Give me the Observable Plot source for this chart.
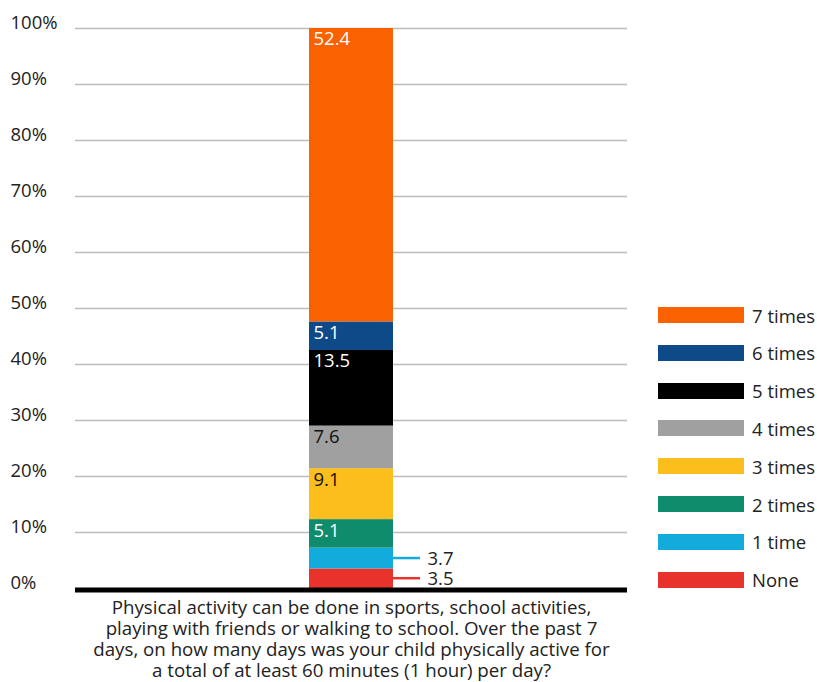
<!DOCTYPE html>
<html>
<head>
<meta charset="utf-8">
<script src="https://cdn.jsdelivr.net/npm/d3@7"></script>
<script src="https://cdn.jsdelivr.net/npm/@observablehq/plot@0.6"></script>
<style>
  body { margin: 0; background: #fff; font-family: "Open Sans", sans-serif; }
  #wrap { position: relative; width: 817px; height: 682px; }
  #wrap svg { position: absolute; left: 0; top: 0; }
  .item { position: absolute; left: 658px; height: 16px; display: flex; align-items: center; font-size: 18.5px; color: #222; white-space: nowrap; }
  .sw { width: 86px; height: 16px; margin-right: 8px; flex: none; }
</style>
</head>
<body>
<div id="wrap"></div>
<script>
// ---- data ----
const questionLines = [
  "Physical activity can be done in sports, school activities,",
  "playing with friends or walking to school. Over the past 7",
  "days, on how many days was your child physically active for",
  "a total of at least 60 minutes (1 hour) per day?"
];
const question = questionLines.join(" ");
const categories = ["None", "1 time", "2 times", "3 times", "4 times", "5 times", "6 times", "7 times"];
const values = [3.5, 3.7, 5.1, 9.1, 7.6, 13.5, 5.1, 52.4];
const yTicks = [0, 10, 20, 30, 40, 50, 60, 70, 80, 90, 100];

// ---- styles ----
const palette = ["#E8322C", "#12ABDB", "#0E8C6C", "#FBBE1C", "#A0A0A0", "#000000", "#0D4A87", "#FA6100"];
const labelInk = ["dark", "dark", "light", "dark", "dark", "light", "light", "light"];
const smallThreshold = 4;

const data = categories.map((c, i) => ({q: question, cat: c, value: values[i], ink: labelInk[i]}));

const common = {x: "q", y: "value", z: "cat"};

const chart = Plot.plot({
  width: 817,
  height: 682,
  marginTop: 28,
  marginBottom: 94,
  marginLeft: 75,
  marginRight: 190,
  style: {fontFamily: "Open Sans, sans-serif", fontSize: "18px", background: "#fff", color: "#222"},
  x: {domain: [question], padding: 0.736, axis: null},
  y: {domain: [0, 100], axis: null},
  color: {domain: categories, range: palette},
  marks: [
    Plot.gridY(yTicks.filter(d => d > 0), {stroke: "#bdbdbd", strokeOpacity: 1, strokeWidth: 1.5}),
    Plot.text(yTicks, {y: d => d, text: d => d + "%", frameAnchor: "left", textAnchor: "start", dx: -65, dy: -5.5, fontSize: 18.5, fill: "#222"}),
    Plot.barY(data, {...common, fill: "cat"}),
    // inside labels (top-left of each segment)
    Plot.text(data, Plot.stackY2({...common,
      text: d => d.value >= smallThreshold && d.ink === "light" ? d.value.toFixed(1) : null,
      textAnchor: "start", dx: -38, dy: 11, fill: "white", fontSize: 18.5})),
    Plot.text(data, Plot.stackY2({...common,
      text: d => d.value >= smallThreshold && d.ink === "dark" ? d.value.toFixed(1) : null,
      textAnchor: "start", dx: -38, dy: 11, fill: "#111", fontSize: 18.5})),
    // leader lines for small segments
    Plot.tickY(data, Plot.stackY({...common, stroke: "cat",
      strokeOpacity: d => d.value < smallThreshold ? 1 : 0,
      strokeWidth: 2.5, dx: 84, dy: -0.5, insetRight: 57})),
    Plot.text(data, Plot.stackY({...common,
      text: d => d.value < smallThreshold ? d.value.toFixed(1) : null,
      textAnchor: "start", dx: 76, dy: 0.5, fill: "#222", fontSize: 18.5})),
    Plot.ruleY([0], {stroke: "#000", strokeWidth: 5, dy: 1.5}),
    Plot.text([questionLines.join("\n")], {text: d => d, frameAnchor: "bottom", lineAnchor: "top", dy: 11, fontSize: 18.7, lineHeight: 1.11, fill: "#222"})
  ]
});

const wrap = document.getElementById("wrap");
wrap.appendChild(chart);

// legend (top = 7 times)
const legendOrder = categories.map((c, i) => i).reverse();
legendOrder.forEach((i, k) => {
  const item = document.createElement("div");
  item.className = "item";
  item.style.top = (307 + k * 37.8) + "px";
  const sw = document.createElement("span");
  sw.className = "sw";
  sw.style.background = palette[i];
  const tx = document.createElement("span");
  tx.textContent = categories[i];
  item.appendChild(sw);
  item.appendChild(tx);
  wrap.appendChild(item);
});
</script>
</body>
</html>
